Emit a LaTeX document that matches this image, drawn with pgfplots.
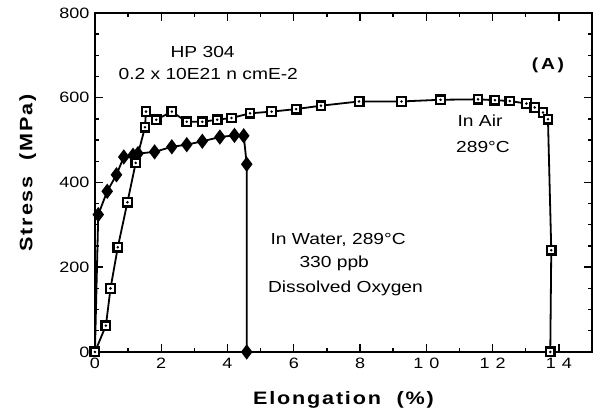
\documentclass[border=0pt]{standalone}
\usepackage{pgfplots}
\pgfplotsset{compat=1.18}
\usepackage{fontspec}
\setmainfont[FakeStretch=1.2]{Liberation Sans}
\newfontfamily\labfont[FakeStretch=1.2,LetterSpace=10]{Liberation Sans}

% open square with a small dot in the middle
\pgfdeclareplotmark{sqdot}{%
  \pgfsetfillcolor{white}%
  \pgfpathrectangle{\pgfpoint{-\pgfplotmarksize}{-\pgfplotmarksize}}%
                   {\pgfpoint{2\pgfplotmarksize}{2\pgfplotmarksize}}%
  \pgfusepathqfillstroke
  \pgfsetfillcolor{black}%
  \pgfpathcircle{\pgfpointorigin}{0.33\pgfplotmarksize}%
  \pgfusepathqfill}

\pgfplotstableread{
x y
0     0
0.33  62
0.47  150
0.69  247
0.98  353
1.23  446
1.51  530
1.54  567
1.85  548
2.32  567
2.77  543
3.24  543
3.69  548
4.12  552
4.68  563
5.33  567
6.07  573
6.82  581
7.97  591
9.25  591
10.43 595
11.56 596
12.07 594
12.52 592
13.02 586
13.27 577
13.52 565
13.67 549
13.77 240
13.74 0
}\airdata

\pgfplotstableread{
x y
0.10  324
0.37  379
0.65  418
0.87  460
1.15  464
1.30  468
1.80  472
2.32  484
2.77  489
3.24  497
3.77  507
4.21  511
4.49  510
4.58  443
4.58  0
}\waterdata

\begin{document}
\begin{tikzpicture}
\begin{axis}[
  scale only axis,
  width=497pt, height=339pt,
  xmin=0, xmax=15, ymin=0, ymax=800,
  clip=false,
  axis line style={line width=2pt},
  every tick/.style={line width=1.4pt, black},
  major tick length=8pt, minor tick length=4pt,
  xtick={0,2,...,14},
  xticklabels={0,2,4,6,8,1\hspace{6pt}0,1\hspace{6pt}2,1\hspace{6pt}4},
  minor x tick num=1,
  ytick={0,200,...,800},
  yticklabels={0,200,400,600,800},
  minor y tick num=3,
  tick label style={font=\fontsize{15}{17}\selectfont},
  xticklabel style={yshift=-3pt},
  yticklabel style={xshift=-2pt},
  xlabel={Elongation\ \ (\%)},
  ylabel={Stress\ \ (MPa)},
  label style={font=\labfont\bfseries\fontsize{18}{20}\selectfont},
  xlabel style={at={(rel axis cs:0.5,-0.142)}, anchor=center},
  ylabel style={at={(rel axis cs:-0.135,0.528)}, anchor=center},
]
\path (rel axis cs:-0.191,-0.198) rectangle (rel axis cs:1.010,1.038);

% first loading segment in water
\addplot[black, line width=1.8pt] coordinates {(0,0) (0.10,324)};
\addplot[black, line width=1.8pt, mark=diamond*, mark size=6.2pt,
  mark options={solid, fill=black}] table[x=x,y=y] {\waterdata};
\addplot[black, line width=1.8pt, mark=sqdot, mark size=4.3pt,
  mark options={solid, line width=2.3pt}] table[x=x,y=y] {\airdata};

\begin{scope}[font=\fontsize{16}{18}\selectfont]
\node at (axis cs:3.25,707) {HP 304};
\node at (axis cs:3.42,656) {0.2 x 10E21 n cmE-2};
\node[font=\bfseries\fontsize{16}{18}\selectfont] at (axis cs:13.67,677) {(\,A\,)};
\node at (axis cs:11.62,546) {In Air};
\node at (axis cs:11.71,483) {289°C};
\node at (axis cs:7.34,265) {In Water, 289°C};
\node at (axis cs:7.22,210) {330 ppb};
\node at (axis cs:7.56,151) {Dissolved Oxygen};
\end{scope}
\end{axis}
\end{tikzpicture}
\end{document}
